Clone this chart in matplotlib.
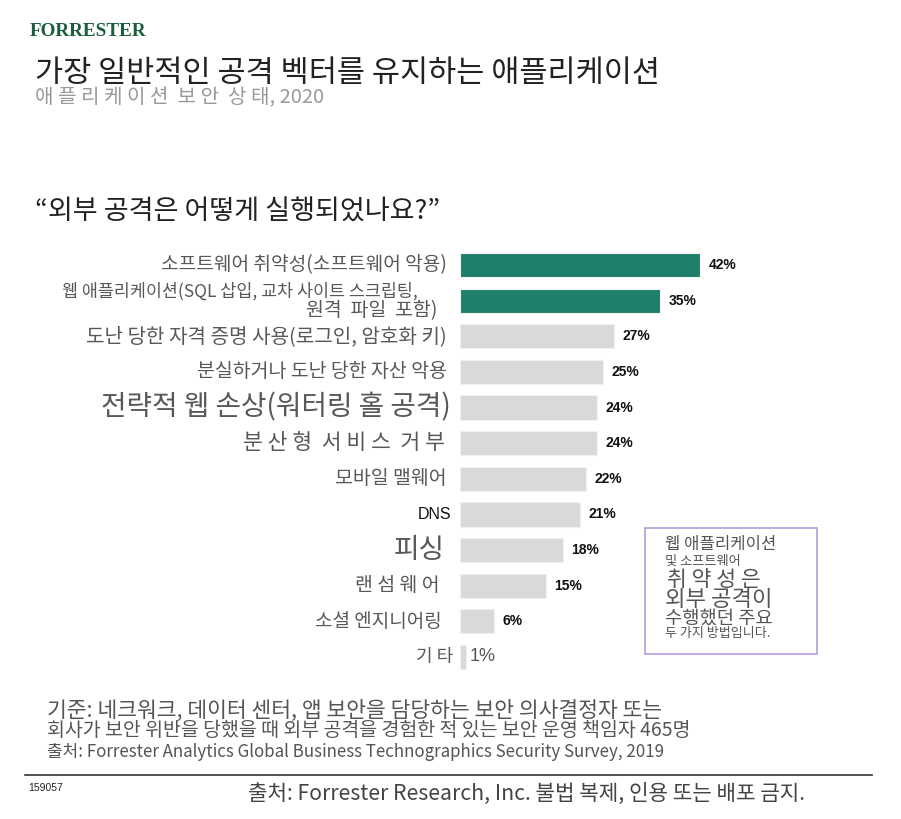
import matplotlib.pyplot as plt

plt.rcParams['font.family'] = ['Noto Sans CJK KR', 'DejaVu Sans']

categories = [
    '소프트웨어 취약성(소프트웨어 악용)',
    '웹 애플리케이션(SQL 삽입, 교차 사이트 스크립팅,',
    '도난 당한 자격 증명 사용(로그인, 암호화 키)',
    '분실하거나 도난 당한 자산 악용',
    '전략적 웹 손상(워터링 홀 공격)',
    '분 산 형  서 비 스  거 부',
    '모바일 맬웨어',
    'DNS',
    '피싱',
    '랜 섬 웨 어',
    '소셜 엔지니어링',
    '기 타',
]
values = [42, 35, 27, 25, 24, 24, 22, 21, 18, 15, 6, 1]
highlight = [True, True] + [False] * 10

# per-label styling (the original uses mixed sizes)
label_sizes = [13.8, 12.5, 14.5, 14, 20, 15.5, 14, 11.5, 20, 14, 13.7, 13]
label_offsets = [-13, -42, -13, -13, -9, -15, -13, -9, -15, -20, -18, -7]
label_shift = [0, 9, 0, 0, 0, 0, 0, 0, 0, 0, 0, 0]

W, H = 901, 819
fig = plt.figure(figsize=(W / 100, H / 100), dpi=100)


def fx(x):
    return x / W


def fy(y):
    return 1 - y / H


# axes: x 460..700 for 0..42, rows centered 265..657
row_top = 265 - 17.8
row_bot = 657 + 17.8
ax = fig.add_axes([fx(460), fy(row_bot), (700 - 460) / W, (row_bot - row_top) / H])
ax.set_xlim(0, 42)
ax.set_ylim(len(values) - 0.5, -0.5)
ax.axis('off')

green = '#1f7f6a'
grey = '#d9d9d9'
ypos = list(range(len(values)))
ax.barh(ypos, values, height=0.68,
        color=[green if h else grey for h in highlight],
        edgecolor='#f2f2f2', linewidth=0.8)

for i, (cat, v) in enumerate(zip(categories, values)):
    off = (label_offsets[i] * 0.72, label_shift[i] * 0.72)
    if cat == 'DNS':
        ax.annotate(cat, xy=(0, i), xytext=off,
                    textcoords='offset points', ha='right', va='center',
                    fontsize=label_sizes[i], family='Liberation Sans', color='#111111')
    else:
        ax.annotate(cat, xy=(0, i), xytext=off,
                    textcoords='offset points', ha='right', va='center',
                    fontsize=label_sizes[i], color='#585858')
    if v == 1:
        ax.annotate(f'{v}%', xy=(v, i), xytext=(3, 0), textcoords='offset points',
                    ha='left', va='center', fontsize=13, family='Liberation Sans',
                    color='#555555')
    else:
        ax.annotate(f'{v}%', xy=(v, i), xytext=(6, 0), textcoords='offset points',
                    ha='left', va='center', fontsize=10, fontweight='bold',
                    family='Liberation Sans', color='#111111')

# second line of the web application label
ax.annotate('원격  파일  포함)', xy=(0, 1), xytext=(-23 * 0.72, -10 * 0.72),
            textcoords='offset points', ha='right', va='center',
            fontsize=14, color='#585858')

# header
fig.text(fx(30), fy(32), 'FORRESTER', family='Liberation Serif', fontweight='bold',
         fontsize=13.8, color='#1b5e3b', va='center')
fig.text(fx(35), fy(73), '가장 일반적인 공격 벡터를 유지하는 애플리케이션',
         fontsize=22, color='#222222', va='center')
fig.text(fx(35), fy(98), '애 플 리 케 이 션  보 안  상 태, 2020',
         fontsize=14.5, color='#999999', va='center')
fig.text(fx(35), fy(212), '“외부 공격은 어떻게 실행되었나요?”',
         fontsize=19.5, color='#222222', va='center')

# callout box
box = plt.Rectangle((fx(645), fy(654)), (817 - 645) / W, (654 - 528) / H,
                    transform=fig.transFigure, fill=False, edgecolor='#b39ddb', linewidth=1.2)
fig.add_artist(box)
fig.text(fx(665), fy(545), '웹 애플리케이션', fontsize=12, color='#555555', va='center')
fig.text(fx(665), fy(561), '및 소프트웨어', fontsize=9.5, color='#555555', va='center')
fig.text(fx(667), fy(580), '취 약 성 은', fontsize=15.5, color='#555555', va='center')
fig.text(fx(665), fy(599), '외부 공격이', fontsize=16, color='#555555', va='center')
fig.text(fx(665), fy(618), '수행했던 주요', fontsize=13.5, color='#555555', va='center')
fig.text(fx(665), fy(634), '두 가지 방법입니다.', fontsize=9.4, color='#555555', va='center')

# footnotes
fig.text(fx(47), fy(711), '기준: 네크워크, 데이터 센터, 앱 보안을 담당하는 보안 의사결정자 또는',
         fontsize=15.5, color='#555555', va='center')
fig.text(fx(47), fy(730), '회사가 보안 위반을 당했을 때 외부 공격을 경험한 적 있는 보안 운영 책임자 465명',
         fontsize=14, color='#555555', va='center')
fig.text(fx(47), fy(752), '출처: Forrester Analytics Global Business Technographics Security Survey, 2019',
         fontsize=12.2, color='#555555', va='center')

fig.add_artist(plt.Line2D([fx(25), fx(872)], [fy(775), fy(775)],
                          transform=fig.transFigure, color='#333333', linewidth=1.2))
fig.text(fx(28), fy(788), '159057', fontsize=7.5, family='Liberation Sans',
         color='#222222', va='center')
fig.text(fx(248), fy(794), '출처: Forrester Research, Inc. 불법 복제, 인용 또는 배포 금지.',
         fontsize=15.3, color='#444444', va='center')

fig.savefig('out.png', dpi=100)
